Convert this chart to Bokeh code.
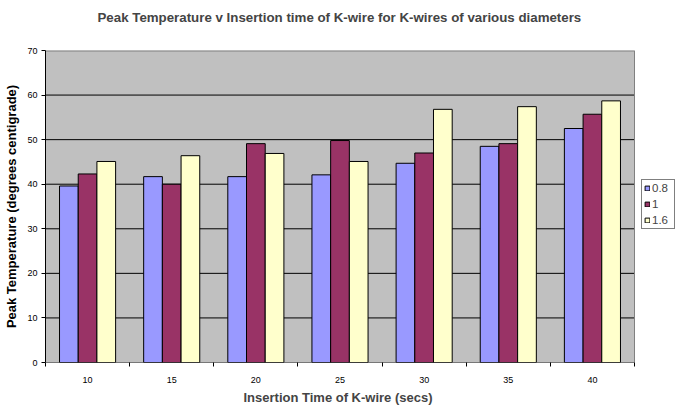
from bokeh.plotting import figure
from bokeh.models import ColumnDataSource, Range1d, FixedTicker, Legend, LegendItem, Title
from bokeh.embed import file_html
from bokeh.resources import INLINE

# Insertion times (categories) and peak temperatures per wire diameter
categories = ["10", "15", "20", "25", "30", "35", "40"]
series_names = ["0.8", "1", "1.6"]
temps_08 = [39.6, 41.7, 41.7, 42.1, 44.7, 48.5, 52.5]
temps_10 = [42.3, 40.0, 49.1, 49.8, 47.0, 49.1, 55.7]
temps_16 = [45.1, 46.4, 46.9, 45.1, 56.8, 57.4, 58.7]
y_ticks = [0, 10, 20, 30, 40, 50, 60, 70]

colors = ["#9999FF", "#993366", "#FFFFCC"]
bar_w = 1 / 4.5
offsets = [-bar_w, 0.0, bar_w]

FONT = "Liberation Sans"

n = len(categories)
y_max = y_ticks[-1]
# the frame runs on to the right edge so the legend has room beside the plot area
x_end = n * 632 / 589

p = figure(frame_width=632, frame_height=312, x_range=Range1d(0, x_end),
           y_range=Range1d(0, y_max), output_backend="svg", toolbar_location=None,
           min_border_left=45, min_border_right=0, min_border_top=50,
           min_border_bottom=44, title=None)

# a thin spacer next to the frame pushes the chart title up to the top edge
spacer = Title(text=" ", text_font=FONT, text_font_size="1px", standoff=15)
p.add_layout(spacer, "above")
main_title = Title(text="Peak Temperature v Insertion time of K-wire for K-wires of various diameters",
                   align="left", offset=52, vertical_align="middle", standoff=14,
                   text_font=FONT, text_font_size="13.3px", text_font_style="bold")
p.add_layout(main_title, "above")

p.background_fill_color = "white"
p.border_fill_color = "white"
p.outline_line_color = None

# grey plot area with black gridlines and a grey border on top/right
p.quad(left=0, right=n, bottom=0, top=y_max, fill_color="#C0C0C0", line_color=None)
p.segment(x0=[0] * (len(y_ticks) - 2), x1=[n] * (len(y_ticks) - 2),
          y0=y_ticks[1:-1], y1=y_ticks[1:-1], line_color="black", line_width=1)
p.segment(x0=[0], x1=[n], y0=[y_max], y1=[y_max], line_color="#808080", line_width=2)
p.segment(x0=[n], x1=[n], y0=[0], y1=[y_max], line_color="#808080", line_width=1)

items = []
for name, vals, col, off in zip(series_names, [temps_08, temps_10, temps_16], colors, offsets):
    src = ColumnDataSource(dict(x=[i + 0.5 + off for i in range(n)], top=vals))
    r = p.vbar(x="x", top="top", bottom=0, width=bar_w, source=src,
               fill_color=col, line_color="black", line_width=1)
    items.append(LegendItem(label=name, renderers=[r]))

# x-axis baseline under the plot area only
p.segment(x0=[0], x1=[n], y0=[0], y1=[0], line_color="black", line_width=1)

# x axis: labels at group centres, tick marks at group boundaries
p.xaxis.ticker = FixedTicker(ticks=[i + 0.5 for i in range(n)],
                             minor_ticks=list(range(n + 1)))
p.xaxis.major_label_overrides = {i + 0.5: c for i, c in enumerate(categories)}
p.xaxis.minor_tick_in = 0
p.xaxis.minor_tick_out = 4
p.xaxis.minor_tick_line_color = "black"
p.xaxis.axis_line_color = None

p.yaxis.ticker = FixedTicker(ticks=y_ticks, minor_ticks=[])
p.yaxis.major_tick_in = 0
p.yaxis.major_tick_out = 4
p.yaxis.axis_label = "Peak Temperature (degrees centigrade)"
p.yaxis.axis_line_color = "black"

for ax in (p.xaxis, p.yaxis):
    ax.major_label_text_font = FONT
    ax.major_label_text_font_size = "9px"
    ax.major_label_text_color = "black"
    ax.axis_label_text_font = FONT
    ax.axis_label_text_font_size = "13px"
    ax.axis_label_text_font_style = "bold"
    ax.axis_label_text_color = "black"
p.xaxis.major_tick_line_color = None
p.yaxis.major_tick_line_color = "black"
p.xaxis.major_label_standoff = 8
p.yaxis.major_label_standoff = 4
p.yaxis.axis_label_standoff = 5

xlabel = Title(text="Insertion Time of K-wire (secs)", align="left", offset=198,
               text_font=FONT, text_font_size="13px", text_font_style="bold",
               standoff=4)
p.add_layout(xlabel, "below")

p.xgrid.grid_line_color = None
p.ygrid.grid_line_color = None

legend = Legend(items=items, location=(596, 133), orientation="vertical",
                label_text_font=FONT, label_text_font_size="11.5px",
                glyph_width=6, glyph_height=6, label_standoff=2,
                spacing=4, padding=2, margin=0, label_height=12,
                border_line_color="black", border_line_width=1,
                background_fill_color="white", background_fill_alpha=1)
p.add_layout(legend, "center")

open("out.html", "w").write(file_html(p, INLINE))
